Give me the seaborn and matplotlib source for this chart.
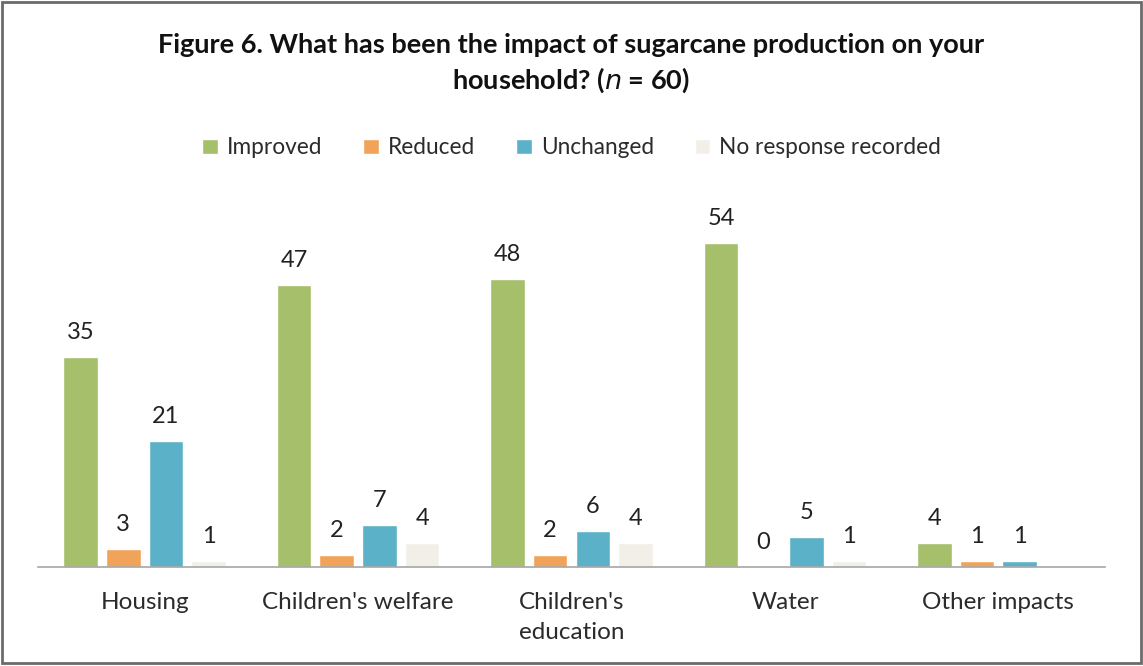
import numpy as np
import pandas as pd
import matplotlib
matplotlib.use("Agg")
import matplotlib.pyplot as plt
from matplotlib.patches import Rectangle
import seaborn as sns

# Survey responses per impact area
categories = ["Housing", "Children's welfare", "Children's\neducation", "Water", "Other impacts"]
responses = ["Improved", "Reduced", "Unchanged", "No response recorded"]
improved = [35, 47, 48, 54, 4]
reduced = [3, 2, 2, 0, 1]
unchanged = [21, 7, 6, 5, 1]
no_response = [1, 4, 4, 1, np.nan]

colors = ["#a5bf6a", "#f2a35a", "#5bb1c7", "#f1efe7"]

rows = []
for resp, vals in zip(responses, [improved, reduced, unchanged, no_response]):
    for cat, v in zip(categories, vals):
        rows.append({"category": cat, "response": resp, "count": v})
df = pd.DataFrame(rows)

sns.set_theme(style="white")
plt.rcParams["font.family"] = ["Lato", "DejaVu Sans"]

fig = plt.figure(figsize=(11.43, 6.66), dpi=100)
ax = fig.add_axes([0.0332, 0.1486, 0.9336, 0.5405])

sns.barplot(data=df, x="category", y="count", hue="response",
            order=categories, hue_order=responses, palette=colors,
            width=0.8, gap=0.19, saturation=1, errorbar=None, ax=ax)

for cont in ax.containers:
    labels = ["" if np.isnan(v) else f"{v:.0f}" for v in cont.datavalues]
    ax.bar_label(cont, labels=labels, padding=10, fontsize=17, color="#222222")

ax.set_ylim(0, 60)
ax.set_xlim(-0.5, 4.5)
ax.set_xlabel("")
ax.set_ylabel("")
ax.set_yticks([])
for side in ["top", "left", "right"]:
    ax.spines[side].set_visible(False)
ax.spines["bottom"].set_color("#a6a6a6")
ax.spines["bottom"].set_linewidth(1.2)
ax.tick_params(axis="x", length=0, pad=18, labelsize=17.5, colors="#2b2b2b")
for lbl in ax.get_xticklabels():
    lbl.set_linespacing(1.5)
ax.patch.set_alpha(0)

sns.move_legend(ax, "center", bbox_to_anchor=(0.5, 0.778),
                bbox_transform=fig.transFigure, ncol=4, frameon=False,
                title=None, fontsize=16.3, handlelength=0.7, handleheight=0.7,
                handletextpad=0.4, columnspacing=1.8)
for t in ax.get_legend().get_texts():
    t.set_color("#2b2b2b")

fig.text(0.5, 0.932, "Figure 6. What has been the impact of sugarcane production on your",
         ha="center", va="center", fontsize=19.5, fontweight="bold", color="#111111")
fig.text(0.5, 0.879, r"household? ($\mathit{n}$ = 60)",
         ha="center", va="center", fontsize=19.5, fontweight="bold", color="#111111")

# Frame round the whole figure
fig.patches.append(Rectangle((0.002, 0.004), 0.996, 0.993, transform=fig.transFigure,
                             fill=False, edgecolor="#6b6b6b", linewidth=2))

fig.savefig("out.png", dpi=100)
